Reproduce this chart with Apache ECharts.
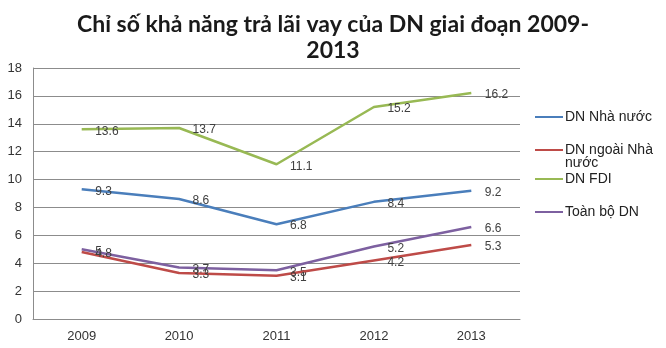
<!DOCTYPE html>
<html>
<head>
<meta charset="utf-8">
<script src="https://cdn.jsdelivr.net/npm/echarts@6/dist/echarts.min.js"></script>
<style>
  html, body { margin: 0; padding: 0; background: #fff; }
  #chart { width: 666px; height: 348px; }
</style>
</head>
<body>
<div id="chart"></div>
<script>
// Interest coverage ratio by enterprise type, 2009-2013
const years = ['2009', '2010', '2011', '2012', '2013'];
const seriesNames = ['DN Nhà nước', 'DN ngoài Nhà nước', 'DN FDI', 'Toàn bộ DN'];
const stateOwned = [9.3, 8.6, 6.8, 8.4, 9.2];
const nonState = [4.8, 3.3, 3.1, 4.2, 5.3];
const fdi = [13.6, 13.7, 11.1, 15.2, 16.2];
const allEnterprises = [5, 3.7, 3.5, 5.2, 6.6];
const yTicks = [0, 2, 4, 6, 8, 10, 12, 14, 16, 18];

const colors = ['#4a7ebb', '#be4b48', '#98b954', '#7d60a0'];
const values = [stateOwned, nonState, fdi, allEnterprises];
const legendTops = [110, 143, 172, 205];

const chart = echarts.init(document.getElementById('chart'));

// Invisible point markers carry the value labels
const series = seriesNames.map((name, i) => ({
  name: name,
  type: 'line',
  data: values[i],
  symbol: 'circle',
  symbolSize: 1,
  showSymbol: true,
  itemStyle: { color: 'rgba(0,0,0,0)', borderWidth: 0 },
  lineStyle: { width: 2.5, color: colors[i] },
  emphasis: { disabled: true },
  z: i === 1 ? 4 : 3,
  label: {
    show: true,
    position: 'right',
    distance: 13,
    offset: [0, 2],
    color: '#404040',
    fontFamily: 'Liberation Sans, Arial, sans-serif',
    fontSize: 12
  }
}));

// One legend per entry; the wrapped entry's key sits beside its first line,
// so its icon is a bar at the top of a taller, otherwise empty box.
const legends = seriesNames.map((name, i) => {
  const wrapped = name === 'DN ngoài Nhà nước';
  return {
    data: [{ name: name, itemStyle: { color: colors[i], opacity: 1 } }],
    left: 535,
    top: legendTops[i],
    orient: 'vertical',
    icon: wrapped ? 'path://M0,0L28,0L28,2L0,2Z M0,15' : 'rect',
    itemWidth: 28,
    itemHeight: wrapped ? 15 : 2,
    itemGap: 0,
    formatter: n => wrapped ? 'DN ngoài Nhà\nnước' : n,
    textStyle: {
      color: '#222',
      fontFamily: 'Liberation Sans, Arial, sans-serif',
      fontSize: 14,
      lineHeight: 13,
      padding: [0, 0, 0, -3]
    },
    align: 'left',
    padding: 0
  };
});

chart.setOption({
  backgroundColor: '#ffffff',
  animation: false,
  title: {
    text: 'Chỉ số khả năng trả lãi vay của DN giai đoạn 2009-\n2013',
    left: 'center',
    top: 7,
    textStyle: {
      fontFamily: 'Lato, sans-serif',
      fontWeight: 'bold',
      fontSize: 23,
      lineHeight: 26,
      color: '#1a1a1a'
    }
  },
  legend: legends,
  grid: { left: 33, right: 146, top: 68, bottom: 29, containLabel: false },
  xAxis: {
    type: 'category',
    data: years,
    boundaryGap: true,
    axisLine: { lineStyle: { color: '#8c8c8c', width: 1 } },
    axisTick: { show: false },
    axisLabel: {
      color: '#333',
      fontFamily: 'Liberation Sans, Arial, sans-serif',
      fontSize: 13,
      margin: 11
    }
  },
  yAxis: {
    type: 'value',
    min: yTicks[0],
    max: yTicks[yTicks.length - 1],
    interval: 2,
    axisLine: { show: true, lineStyle: { color: '#8c8c8c', width: 1 } },
    axisTick: { show: false },
    splitLine: { lineStyle: { color: '#8c8c8c', width: 1 } },
    axisLabel: {
      color: '#333',
      fontFamily: 'Liberation Sans, Arial, sans-serif',
      fontSize: 13,
      margin: 11
    }
  },
  series: series
});
</script>
</body>
</html>
